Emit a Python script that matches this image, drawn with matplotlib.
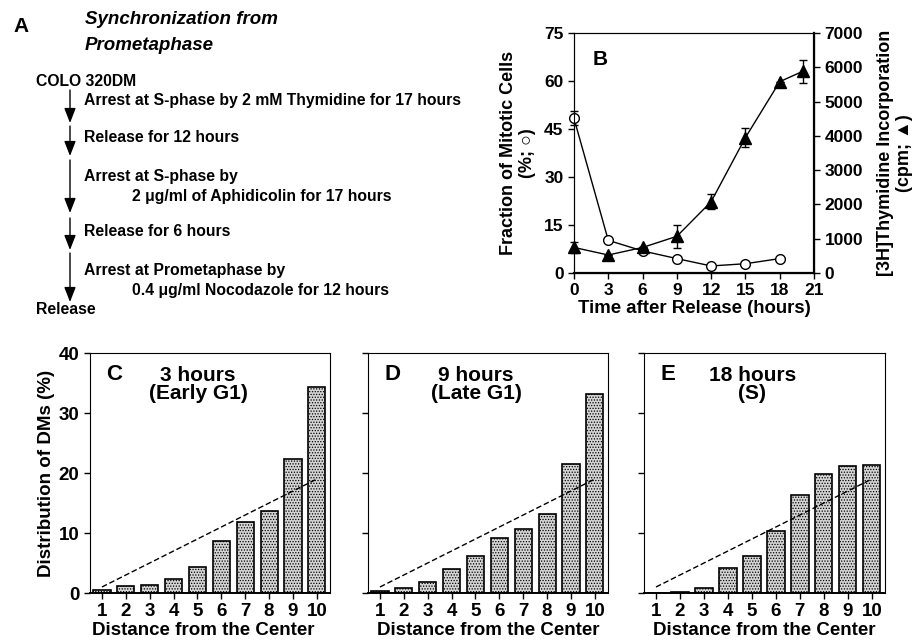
import matplotlib
matplotlib.use("Agg")
import matplotlib.pyplot as plt
import numpy as np

plt.rcParams['font.family'] = ['Liberation Sans', 'DejaVu Sans']
plt.rcParams['font.weight'] = 'bold'
plt.rcParams['hatch.linewidth'] = 0.6

# ---- data ----
time_h = [0, 3, 6, 9, 12, 15, 18]
mitotic_pct = [48.3, 10.2, 6.9, 4.5, 2.2, 2.9, 4.5]
mitotic_err = [2.2, 0, 0, 0, 0, 0, 0]

thy_time = [0, 3, 6, 9, 12, 15, 18, 20]
thy_cpm = [745, 525, 745, 1070, 2080, 3950, 5580, 5880]
thy_err = [150, 0, 0, 330, 220, 270, 0, 340]

distance = [1, 2, 3, 4, 5, 6, 7, 8, 9, 10]
dist_3h = [0.5, 1.1, 1.3, 2.3, 4.3, 8.7, 11.9, 13.7, 22.3, 34.4]
dist_9h = [0.3, 0.9, 1.9, 4.0, 6.1, 9.1, 10.7, 13.2, 21.5, 33.1]
dist_18h = [0.0, 0.15, 0.9, 4.1, 6.1, 10.3, 16.3, 19.9, 21.1, 21.3]
expected_x = [1, 10]
expected_y = [1, 19]

panel_letters = ['C', 'D', 'E']
panel_titles = ['3 hours\n(Early G1)', '9 hours\n(Late G1)', '18 hours\n(S)']

protocol = [
    (36, 82, "COLO 320DM"),
    (84, 100, "Arrest at S-phase by 2 mM Thymidine for 17 hours"),
    (84, 138, "Release for 12 hours"),
    (84, 176, "Arrest at S-phase by"),
    (132, 196, "2 \u03bcg/ml of Aphidicolin for 17 hours"),
    (84, 232, "Release for 6 hours"),
    (84, 271, "Arrest at Prometaphase by"),
    (132, 291, "0.4 \u03bcg/ml Nocodazole for 12 hours"),
    (36, 309, "Release"),
]
arrow_spans = [(90, 123), (126, 156), (160, 213), (218, 250), (253, 302)]

W, H = 921, 642
fig = plt.figure(figsize=(W / 100, H / 100), dpi=100)

# ---- panel A (schematic, in pixel coords) ----
ax0 = fig.add_axes([0, 0, 1, 1])
ax0.set_xlim(0, W)
ax0.set_ylim(H, 0)
ax0.axis('off')
ax0.text(13, 27, "A", fontsize=15, fontweight='bold', va='center', ha='left')
ax0.text(85, 20, "Synchronization from", fontsize=13.5, fontweight='bold',
         style='italic', va='center')
ax0.text(85, 45, "Prometaphase", fontsize=13.5, fontweight='bold',
         style='italic', va='center')
for x, y, s in protocol:
    ax0.text(x, y, s, fontsize=11.3, fontweight='bold', va='center', ha='left')
for y0, y1 in arrow_spans:
    ax0.annotate('', xy=(70, y1), xytext=(70, y0),
                 arrowprops=dict(arrowstyle='-|>,head_length=0.9,head_width=0.35',
                                 color='k', lw=1.0, mutation_scale=10,
                                 shrinkA=0, shrinkB=0))


def px_axes(left, top, right, bottom):
    return fig.add_axes([left / W, 1 - bottom / H, (right - left) / W,
                         (bottom - top) / H])


def style_ticks(ax, size):
    ax.tick_params(direction='out', length=4, width=1, labelsize=size)
    for lab in ax.get_xticklabels() + ax.get_yticklabels():
        lab.set_fontweight('bold')


# ---- panel B ----
axb = px_axes(574, 33, 814, 273)
axb.errorbar(time_h, mitotic_pct, yerr=mitotic_err, fmt='-o', color='k',
             mfc='white', mec='k', ms=7, lw=1, capsize=3, elinewidth=1,
             clip_on=False, zorder=3)
axb.set_xlim(0, 21)
axb.set_ylim(0, 75)
axb.set_xticks(np.arange(0, 22, 3))
axb.set_yticks(np.arange(0, 76, 15))
axb.set_xlabel("Time after Release (hours)", fontsize=13.4, fontweight='bold',
               labelpad=1)
axb.set_ylabel("Fraction of Mitotic Cells\n(%; \u25cb)", fontsize=13,
               fontweight='bold', labelpad=6, linespacing=1.15)
axb.text(0.11, 0.89, "B", transform=axb.transAxes, fontsize=15,
         fontweight='bold', va='center', ha='center')
style_ticks(axb, 12.5)

axt = axb.twinx()
axt.errorbar(thy_time, thy_cpm, yerr=thy_err, fmt='-^', color='k', ms=8,
             lw=1, capsize=3, elinewidth=1, clip_on=False, zorder=3)
axt.set_ylim(0, 7000)
axt.set_yticks(np.arange(0, 7001, 1000))
axt.set_ylabel("[3H]Thymidine Incorporation\n(cpm; \u25b2)", fontsize=13,
               fontweight='bold', labelpad=10, linespacing=1.15)
axt.spines['right'].set_linewidth(1.6)
axb.spines['bottom'].set_linewidth(1.6)
style_ticks(axt, 12.5)

# ---- panels C, D, E ----
lefts = [(90, 330), (368, 608), (644, 885)]
series = [dist_3h, dist_9h, dist_18h]
for i, ((l, r), vals) in enumerate(zip(lefts, series)):
    ax = px_axes(l, 353, r, 593)
    ax.bar(distance, vals, width=0.72, facecolor='#d4d4d4', edgecolor='k',
           hatch='......', lw=1.2, zorder=2)
    ax.plot(expected_x, expected_y, color='k', lw=1, ls=(0, (4, 2)), zorder=3)
    ax.set_xlim(0.5, 10.55)
    ax.set_ylim(0, 40)
    ax.set_xticks(distance)
    ax.set_yticks([0, 10, 20, 30, 40])
    ax.set_xlabel("Distance from the Center", fontsize=13.5, fontweight='bold',
                  labelpad=1)
    ax.text(0.10, 0.91, panel_letters[i], transform=ax.transAxes, fontsize=16,
            fontweight='bold', va='center', ha='center')
    ax.text(0.45, 0.87, panel_titles[i], transform=ax.transAxes, fontsize=15,
            fontweight='bold', va='center', ha='center', linespacing=0.95)
    style_ticks(ax, 13.5)
    ax.spines['bottom'].set_linewidth(1.4)
    if i == 0:
        ax.xaxis.label.set_x(0.47)
        ax.set_ylabel("Distribution of DMs (%)", fontsize=13.5, fontweight='bold',
                      labelpad=3)
    else:
        ax.set_yticklabels([])

fig.savefig("out.png", dpi=100)
